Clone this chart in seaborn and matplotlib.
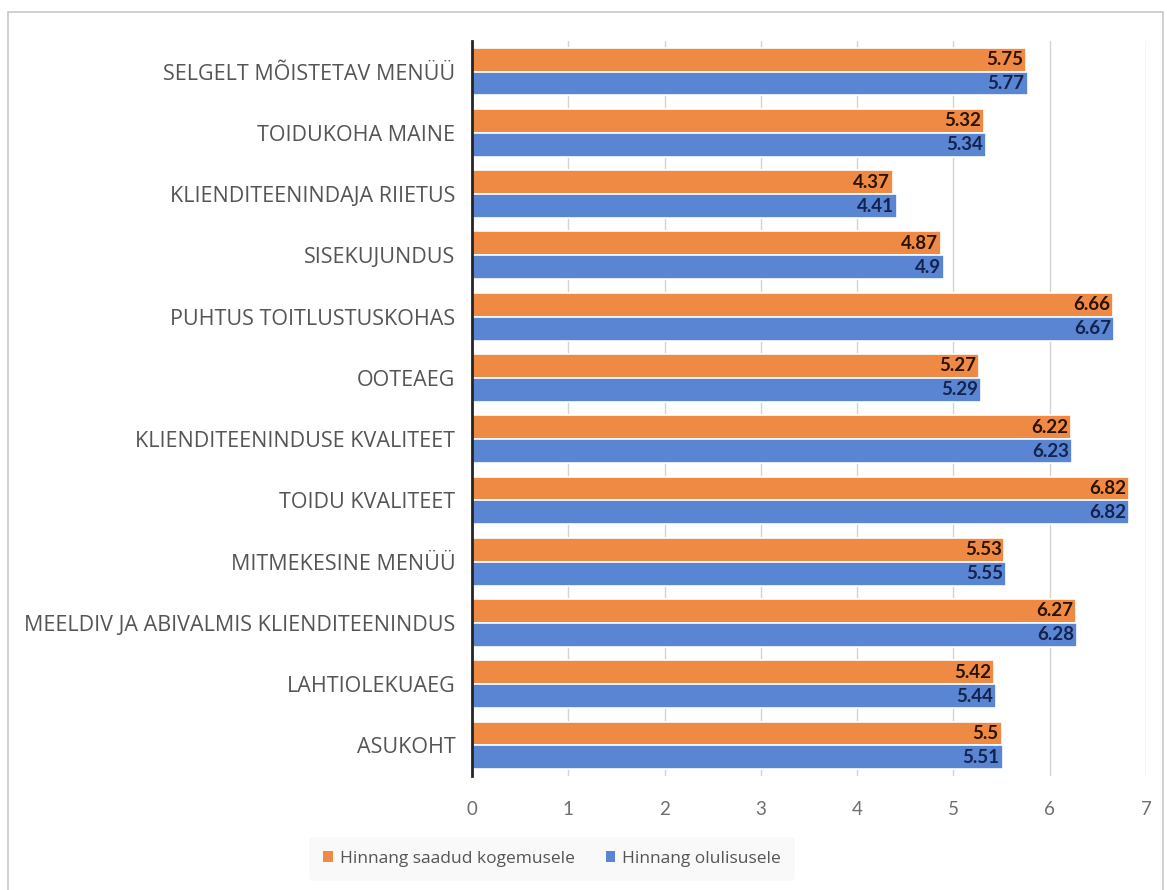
import matplotlib
matplotlib.use("Agg")
import matplotlib.pyplot as plt
from matplotlib.patches import Rectangle, Patch
import seaborn as sns
import pandas as pd

categories = [
    "SELGELT MÕISTETAV MENÜÜ",
    "TOIDUKOHA MAINE",
    "KLIENDITEENINDAJA RIIETUS",
    "SISEKUJUNDUS",
    "PUHTUS TOITLUSTUSKOHAS",
    "OOTEAEG",
    "KLIENDITEENINDUSE KVALITEET",
    "TOIDU KVALITEET",
    "MITMEKESINE MENÜÜ",
    "MEELDIV JA ABIVALMIS KLIENDITEENINDUS",
    "LAHTIOLEKUAEG",
    "ASUKOHT",
]
series_names = ["Hinnang saadud kogemusele", "Hinnang olulisusele"]
experience = [5.75, 5.32, 4.37, 4.87, 6.66, 5.27, 6.22, 6.82, 5.53, 6.27, 5.42, 5.5]
importance = [5.77, 5.34, 4.41, 4.9, 6.67, 5.29, 6.23, 6.82, 5.55, 6.28, 5.44, 5.51]
x_ticks = [0, 1, 2, 3, 4, 5, 6, 7]

colors = ["#EF8A45", "#5A85D3"]
label_colors = ["#2b1200", "#14234d"]

df = pd.DataFrame({
    "kategooria": categories * 2,
    "hinnang": experience + importance,
    "seeria": [series_names[0]] * len(categories) + [series_names[1]] * len(categories),
})

sns.set_theme(style="white")
plt.rcParams["font.family"] = ["Lato", "DejaVu Sans"]

fig = plt.figure(figsize=(11.67, 8.9), dpi=100)
ax = fig.add_axes([0.4045, 0.128, 0.5775, 0.826])

sns.barplot(
    data=df, y="kategooria", x="hinnang", hue="seeria", orient="h",
    order=categories, hue_order=series_names, palette=colors, saturation=1,
    width=0.78, edgecolor="white", linewidth=1.2, legend=False, ax=ax,
)

# value labels inside the bar ends
for cont, vals, lc in zip(ax.containers, [experience, importance], label_colors):
    for patch, v in zip(cont.patches, vals):
        ax.text(v - 0.03, patch.get_y() + patch.get_height() / 2, f"{v:g}",
                ha="right", va="center", fontsize=13.5, fontweight="bold",
                color=lc)

ax.set_xlim(0, 7)
ax.set_ylim(len(categories) - 0.5, -0.5)
ax.set_xticks(x_ticks)
ax.set_xticklabels([str(t) for t in x_ticks])
ax.set_xlabel("")
ax.set_ylabel("")
ax.xaxis.grid(True, color="#d4d4d4", linewidth=1)
ax.set_axisbelow(True)
for s in ["top", "right", "bottom"]:
    ax.spines[s].set_visible(False)
ax.spines["left"].set_color("#262626")
ax.spines["left"].set_linewidth(2)
ax.tick_params(axis="x", length=0, pad=18, labelsize=13.5, labelcolor="#6e6e6e")
ax.tick_params(axis="y", length=0, pad=12)
for lbl in ax.get_yticklabels():
    lbl.set_fontfamily(["Open Sans", "DejaVu Sans"])
    lbl.set_fontsize(15.5)
    lbl.set_color("#555555")

handles = [Patch(facecolor=c, edgecolor="none") for c in colors]
leg = fig.legend(handles, series_names, loc="center", bbox_to_anchor=(0.473, 0.035),
                 ncol=2, frameon=True, handlelength=0.55, handleheight=0.55,
                 handletextpad=0.4, columnspacing=1.8, borderpad=0.8,
                 prop={"family": ["Open Sans", "DejaVu Sans"], "size": 12.5})
leg.get_frame().set_facecolor("#f8f8f8")
leg.get_frame().set_edgecolor("none")
for t in leg.get_texts():
    t.set_color("#555555")

fig.patches.append(Rectangle((8 / 1167, -0.01), 1155 / 1167, 1 - 12 / 890 + 0.01,
                             transform=fig.transFigure, fill=False,
                             edgecolor="#c8c8c8", linewidth=1.2))

fig.savefig("out.png", dpi=100, facecolor="white")
